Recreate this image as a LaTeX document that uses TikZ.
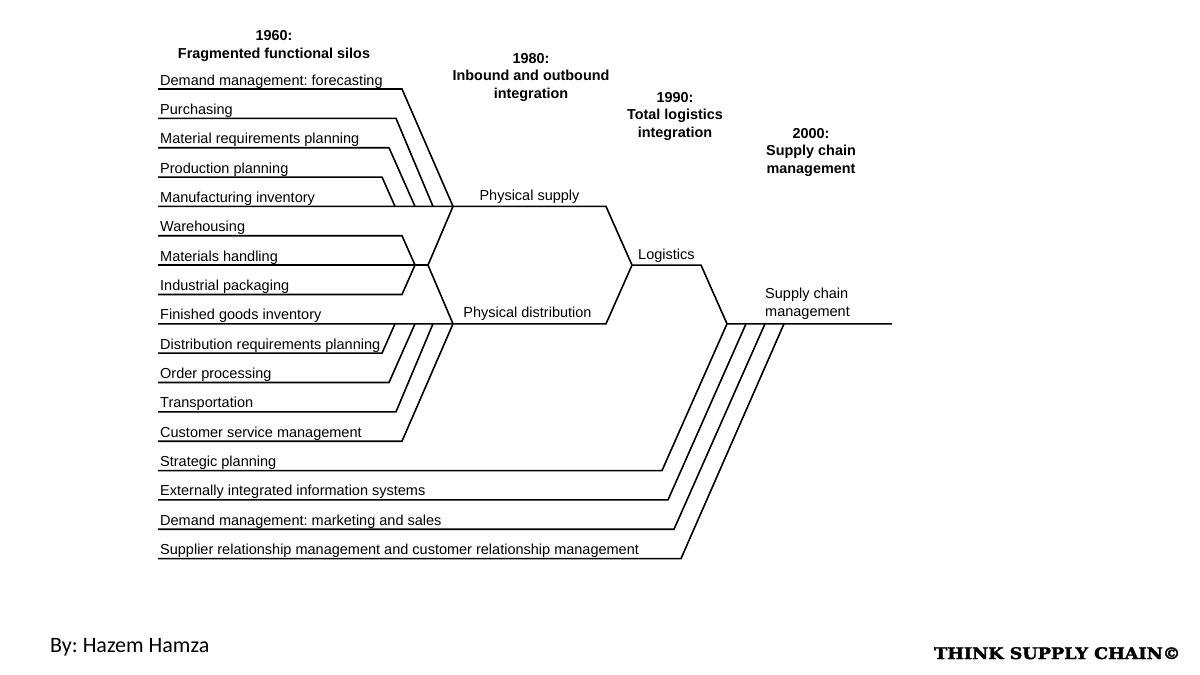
\documentclass[tikz,border=0pt]{standalone}
\usepackage{fontspec}
\setmainfont{Liberation Sans}
\newfontfamily\bylinefont{Carlito}
\newfontfamily\brandfont[BoldFeatures={FakeBold=2}]{DejaVu Serif}
\usetikzlibrary{positioning,calc}
\frenchspacing

\begin{document}
\begin{tikzpicture}[x=1pt,y=-1pt,
  line/.style={line width=1.6pt,line join=miter},
  lbl/.style={anchor=base west,inner sep=0pt,font=\fontsize{14.5}{17.5}\selectfont},
  era/.style={align=center,anchor=base,inner sep=0pt,font=\fontsize{14.4}{17.5}\selectfont\bfseries}]
  \useasboundingbox[fill=white] (0,0) rectangle (1200,675);

  % row starts and their labels
  \foreach \i/\txt in {0/Demand management: forecasting,1/Purchasing,
      2/Material requirements planning,3/Production planning,4/Manufacturing inventory,
      5/Warehousing,6/Materials handling,7/Industrial packaging,8/Finished goods inventory,
      9/Distribution requirements planning,10/Order processing,11/Transportation,
      12/Customer service management,13/Strategic planning,
      14/Externally integrated information systems,15/Demand management: marketing and sales,
      16/Supplier relationship management and customer relationship management} {
    \coordinate (s\i) at (158,{89+29.35*\i});
    \node[lbl] (r\i) at ([shift={(2,-4)}]s\i) {\txt};
  }

  % junctions
  \coordinate (ps) at (s4 -| 453,0);
  \coordinate (pe) at (s4 -| 606,0);
  \coordinate (mh) at (s6 -| 415,0);
  \coordinate (mc) at (s6 -| 428,0);
  \coordinate (pd) at (s8 -| 453,0);
  \coordinate (de) at (s8 -| 606,0);
  \coordinate (lg) at (s6 -| 632,0);
  \coordinate (le) at (s6 -| 701,0);
  \coordinate (sc) at (s8 -| 727,0);
  \coordinate (se) at (s8 -| 892,0);

  % feeder lines
  \foreach \i/\bx/\ex/\j in {0/402/453/ps,1/396/433/ps,2/389/415/ps,3/382/395/ps,
      5/402/415/mh,7/402/415/mh,9/382/395/pd,10/389/415/pd,11/396/433/pd,12/402/453/pd,
      13/662/727/sc,14/668/746/sc,15/674/765/sc,16/681/784/sc}
    \draw[line] (s\i) -- (s\i -| \bx,0) -- (\j -| \ex,0);

  % main stream
  \draw[line] (s4) -- (ps) -- (pe) -- (lg);
  \draw[line] (s8) -- (pd) -- (de) -- (lg);
  \draw[line] (s6) -- (mc);
  \draw[line] (ps) -- (mc) -- (pd);
  \draw[line] (lg) -- (le) -- (sc) -- (se);

  \node[lbl,anchor=base] (pstxt) at ($(ps)!0.5!(pe)+(0,-6)$) {Physical supply};
  \node[lbl,anchor=base] (pdtxt) at ($(pd)!0.5!(de)+(-2,-6)$) {Physical distribution};
  \node[lbl] (lgtxt) at ([shift={(6,-6)}]lg) {Logistics};
  \node[lbl,align=left] (sctxt) at (765,316) {Supply chain\\management};

  % eras
  \node[era] (e1960) at (274,58) {1960:\\Fragmented functional silos};
  \node[era] (e1980) at (531,98) {1980:\\Inbound and outbound\\integration};
  \node[era] (e1990) at (675,137) {1990:\\Total logistics\\integration};
  \node[era] (e2000) at (811,173) {2000:\\Supply chain\\management};

  % footer
  \node[anchor=base west,inner sep=0pt,font=\bylinefont\fontsize{22}{26}\selectfont] (by) at (50,652) {By: Hazem Hamza};
  \node[anchor=base west,inner sep=0pt,font=\brandfont\bfseries\fontsize{16}{18}\selectfont] (brand) at (934,659) {\scalebox{1.1}[1]{THINK SUPPLY CHAIN©}};
\end{tikzpicture}
\end{document}
